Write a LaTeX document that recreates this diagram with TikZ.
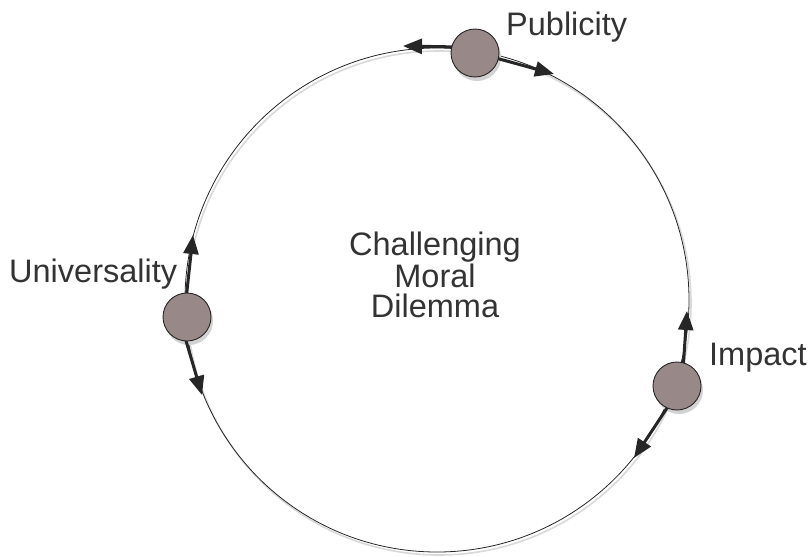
\documentclass[tikz,border=0pt]{standalone}
\usepackage{fontspec}
\setmainfont{Liberation Sans}
\usetikzlibrary{arrows.meta}
\definecolor{ballfill}{RGB}{152,136,136}
\definecolor{txt}{RGB}{51,51,51}
\definecolor{ink}{RGB}{38,38,38}
\begin{document}
\begin{tikzpicture}[x=1pt,y=-1pt,
  ball/.style={circle,draw=ink,line width=0.9pt,fill=ballfill,minimum size=48pt,inner sep=0pt},
  ballshadow/.style={circle,fill=gray!35,minimum size=48pt,inner sep=0pt},
  label/.style={text=txt,font=\fontsize{32.5}{30}\selectfont,inner sep=0pt},
  flow/.style={draw=ink,line width=3pt,-{Triangle[length=19pt,width=15pt]}}]
\useasboundingbox (0,0) rectangle (809,557);
% ring with faint shadow
\draw[gray!30,line width=1.6pt] (439,303) circle[radius=252];
\draw[ink,line width=0.8pt] (437,300) circle[radius=252];
% ball shadows
\node[ballshadow] at (477,57) {};
\node[ballshadow] at (189,321) {};
\node[ballshadow] at (679,390) {};
% arrow ends
\coordinate (pl) at (403,46);
\coordinate (pr) at (554,74);
\coordinate (uu) at (193,235);
\coordinate (ud) at (202,395);
\coordinate (iu) at (687,311);
\coordinate (id) at (634,458);
\coordinate (pls) at (460,47);
\coordinate (prs) at (492,57);
\coordinate (uus) at (186,300);
\coordinate (uds) at (184,334);
\coordinate (ius) at (683,370);
\coordinate (ids) at (671,402);
\draw[flow] (pls) -- (pl);
\draw[flow] (prs) -- (pr);
\draw[flow] (uus) -- (uu);
\draw[flow] (uds) -- (ud);
\draw[flow] (ius) -- (iu);
\draw[flow] (ids) -- (id);
% balls
\node[ball] (P) at (475,53) {};
\node[ball] (U) at (187,317) {};
\node[ball] (I) at (677,386) {};
% labels
\node[label,anchor=base west] (pt) at (506,35) {Publicity};
\node[label,anchor=base west] (ut) at (9,282) {Universality};
\node[label,anchor=base west] (it) at (709,365) {Impact};
\node[label,align=center,anchor=north] (c) at (435,232) {Challenging\\Moral\\Dilemma};
\end{tikzpicture}
\end{document}
